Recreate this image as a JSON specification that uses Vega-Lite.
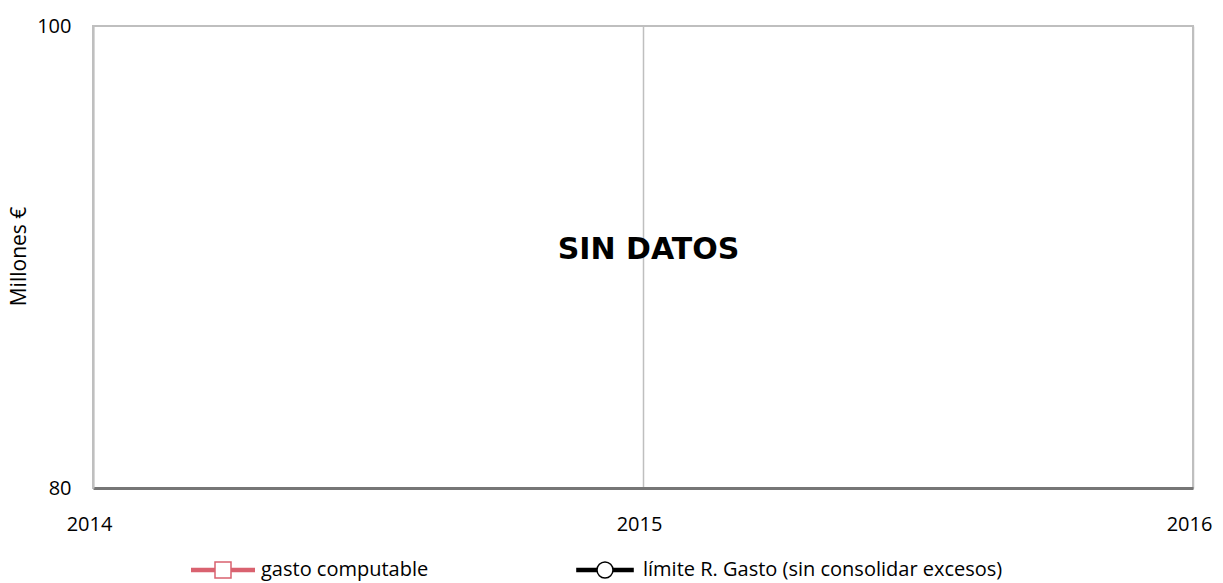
{
  "$schema": "https://vega.github.io/schema/vega-lite/v6.json",
  "width": 1100,
  "height": 462,
  "autosize": {"type": "none"},
  "padding": {"left": 93, "top": 26, "right": 30, "bottom": 95},
  "background": "white",
  "config": {
    "view": {"stroke": "#bfbfbf", "strokeWidth": 2},
    "font": "Open Sans"
  },
  "datasets": {
    "series": [
      {"serie": "gasto computable", "anio": 2014, "valor": null},
      {"serie": "gasto computable", "anio": 2015, "valor": null},
      {"serie": "gasto computable", "anio": 2016, "valor": null},
      {"serie": "límite R. Gasto (sin consolidar excesos)", "anio": 2014, "valor": null},
      {"serie": "límite R. Gasto (sin consolidar excesos)", "anio": 2015, "valor": null},
      {"serie": "límite R. Gasto (sin consolidar excesos)", "anio": 2016, "valor": null}
    ],
    "nota": [
      {"anio": 2015.01, "valor": 90.3, "texto": "SIN DATOS"}
    ]
  },
  "encoding": {
    "x": {
      "field": "anio",
      "type": "quantitative",
      "scale": {"domain": [2014, 2016], "nice": false, "zero": false},
      "axis": {
        "values": [2014, 2015, 2016],
        "tickCount": 3,
        "tickMinStep": 0.1,
        "format": ".0f",
        "title": null,
        "grid": true,
        "gridColor": "#bfbfbf",
        "gridWidth": 1.5,
        "ticks": false,
        "domainColor": "#767676",
        "domainWidth": 3,
        "labelFont": "Open Sans",
        "labelFontSize": 20,
        "labelColor": "black",
        "labelPadding": 26,
        "labelOffset": -4,
        "labelFlush": false,
        "labelOverlap": false
      }
    },
    "y": {
      "field": "valor",
      "type": "quantitative",
      "scale": {"domain": [80, 100], "nice": false, "zero": false},
      "axis": {
        "values": [80, 100],
        "title": "Millones €",
        "titleFont": "Open Sans",
        "titleFontSize": 21,
        "titleFontWeight": "normal",
        "titleColor": "black",
        "titleX": -74,
        "titleY": 230,
        "titleBaseline": "middle",
        "grid": false,
        "ticks": false,
        "domainColor": "#bfbfbf",
        "domainWidth": 2,
        "labelFont": "Open Sans",
        "labelFontSize": 20,
        "labelColor": "black",
        "labelPadding": 22
      }
    }
  },
  "layer": [
    {
      "data": {"name": "series"},
      "mark": {"type": "line", "strokeWidth": 4, "point": {"filled": false, "fill": "white", "size": 150}},
      "encoding": {
        "color": {
          "field": "serie",
          "type": "nominal",
          "scale": {
            "domain": ["gasto computable", "límite R. Gasto (sin consolidar excesos)"],
            "range": ["#d9626f", "#000000"]
          },
          "legend": {
            "orient": "none",
            "legendX": 97,
            "legendY": 511,
            "direction": "horizontal",
            "columns": 2,
            "title": null,
            "labelFont": "Open Sans",
            "labelFontSize": 20,
            "labelColor": "black",
            "labelLimit": 600,
            "symbolType": "M-1,-0.045H-0.25M-1,-0.015H-0.25M-1,0.015H-0.25M-1,0.045H-0.25M0.25,-0.045H1M0.25,-0.015H1M0.25,0.015H1M0.25,0.045H1M-0.25,-0.25H0.25V0.25H-0.25Z",
            "symbolSize": 4096,
            "symbolStrokeWidth": 1.5,
            "symbolFillColor": "white",
            "symbolOpacity": 1,
            "labelOffset": 5,
            "columnPadding": 143,
            "encode": {
              "symbols": {
                "update": {
                  "shape": {"signal": "datum.value === 'gasto computable' ? 'M-1,-0.045H-0.25M-1,-0.015H-0.25M-1,0.015H-0.25M-1,0.045H-0.25M0.25,-0.045H1M0.25,-0.015H1M0.25,0.015H1M0.25,0.045H1M-0.25,-0.25H0.25V0.25H-0.25Z' : 'M-0.9,-0.045H-0.25M-0.9,-0.015H-0.25M-0.9,0.015H-0.25M-0.9,0.045H-0.25M0.25,-0.045H0.9M0.25,-0.015H0.9M0.25,0.015H0.9M0.25,0.045H0.9M-0.25,0A0.25,0.25,0,1,1,0.25,0A0.25,0.25,0,1,1,-0.25,0Z'"},
                  "fill": {"value": "white"},
                  "strokeWidth": {"value": 1.5}
                }
              }
            }
          }
        }
      }
    },
    {
      "data": {"name": "nota"},
      "mark": {"type": "text", "font": "DejaVu Sans", "fontSize": 30, "fontWeight": "bold", "color": "black", "align": "center", "baseline": "middle"},
      "encoding": {
        "text": {"field": "texto"}
      }
    }
  ]
}
